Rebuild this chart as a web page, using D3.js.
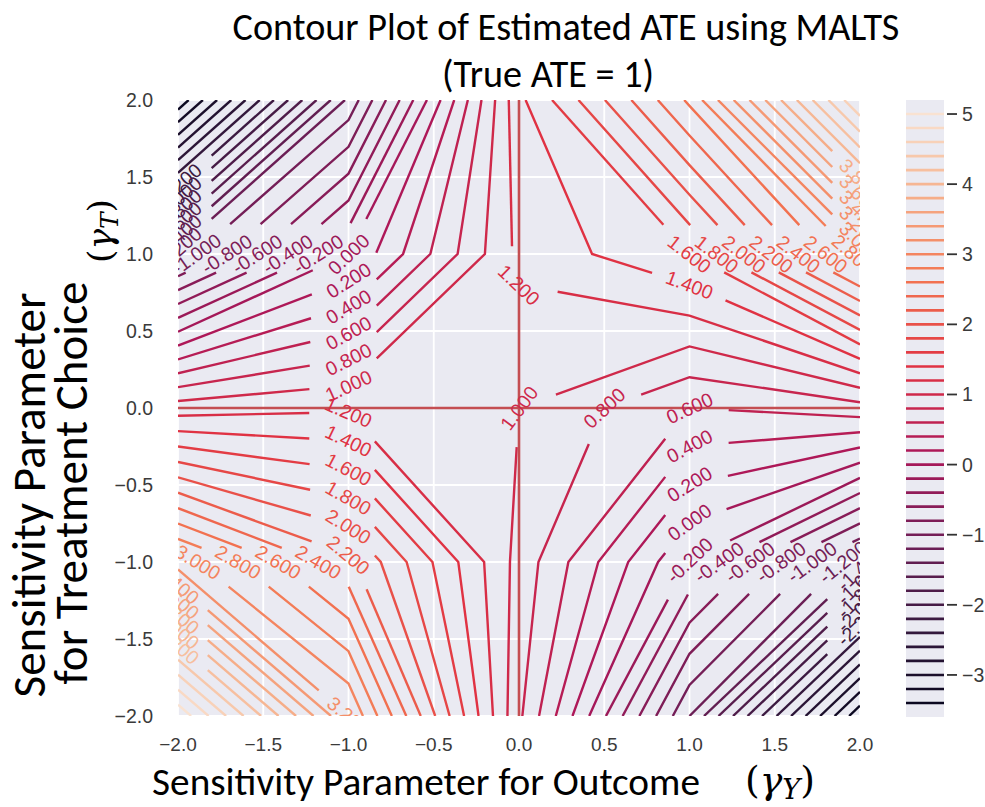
<!DOCTYPE html>
<html><head><meta charset="utf-8">
<script src="https://cdn.jsdelivr.net/npm/d3@7"></script>
<style>body{margin:0;background:#fff} svg{display:block}</style>
</head><body>
<svg id="chart" width="985" height="807"></svg>
<script>
// ---------------- data ----------------
const gammaY = [-2, -1, 0, 1, 2];          // sensitivity parameter for outcome (x grid)
const gammaT = [-2, -1, 0, 1, 2];          // sensitivity parameter for treatment choice (y grid)
// estimated ATE, one row per gammaT value (columns follow gammaY)
const ateAtTm2 = [5.15, 3.2, 0.84, -1.2, -3.55];
const ateAtTm1 = [3.1, 2.25, 0.93, -0.21, -1.31];
const ateAtT0  = [1.1, 1.17, 1.0, 0.6, 0.72];
const ateAtT1  = [-1.12, 0.0, 1.25, 1.6, 2.85];
const ateAtT2  = [-3.55, -1.15, 1.35, 2.64, 4.8];
const levels = d3.range(-34, 52, 2).map(k => k / 10);   // -3.4 … 5.0 step 0.2
const xTicks = [-2, -1.5, -1, -0.5, 0, 0.5, 1, 1.5, 2];
const yTicks = [-2, -1.5, -1, -0.5, 0, 0.5, 1, 1.5, 2];
const cbarTicks = [-3, -2, -1, 0, 1, 2, 3, 4, 5];
const cbarDomain = [-3.6, 5.2];
const rocketStops = ['#03051a', '#35193e', '#701f57', '#ad1759', '#e13342', '#f37651', '#f6b48f', '#faebdd'];

const Z = [ateAtTm2, ateAtTm1, ateAtT0, ateAtT1, ateAtT2];

// ---------------- layout ----------------
const W = 985, H = 807;
const plot = {x0: 178, x1: 860, y0: 100, y1: 716};
const cbar = {x0: 906, x1: 944, y0: 100, y1: 717};
const LABEL_FS = 19.5, SPACING = 10;

const xS = d3.scaleLinear().domain(d3.extent(gammaY)).range([plot.x0, plot.x1]);
const yS = d3.scaleLinear().domain(d3.extent(gammaT)).range([plot.y1, plot.y0]);
const rocket = d3.scaleLinear().domain(rocketStops.map((c, i) => i / (rocketStops.length - 1)))
  .range(rocketStops).interpolate(d3.interpolateRgb);
const norm = d3.scaleLinear().domain(cbarDomain).range([0, 1]).clamp(true);
const colorOf = L => rocket(norm(L));

const svg = d3.select('#chart');
svg.append('rect').attr('width', W).attr('height', H).attr('fill', '#fff');
const defs = svg.append('defs');
defs.append('clipPath').attr('id', 'plotClip').append('rect')
  .attr('x', plot.x0).attr('y', plot.y0).attr('width', plot.x1 - plot.x0).attr('height', plot.y1 - plot.y0);

// ---------------- marching squares (oriented, higher values on the left) ----------------
function edgeKey(p, q) {
  const a = p[0] + ',' + p[1], b = q[0] + ',' + q[1];
  return a < b ? a + '|' + b : b + '|' + a;
}
function contourPaths(L) {
  const nx = gammaY.length, ny = gammaT.length, segs = [];
  for (let j = 0; j < ny - 1; j++) for (let i = 0; i < nx - 1; i++) {
    const cs = [[i, j], [i + 1, j], [i + 1, j + 1], [i, j + 1]];
    const v = cs.map(([a, b]) => Z[b][a]);
    const h = v.map(z => z >= L);
    const cross = [];
    for (let e = 0; e < 4; e++) {
      const f = (e + 1) % 4;
      if (h[e] !== h[f]) {
        const p = cs[e], q = cs[f];
        const t = (L - v[e]) / (v[f] - v[e]);
        cross.push({
          x: gammaY[p[0]] + t * (gammaY[q[0]] - gammaY[p[0]]),
          y: gammaT[p[1]] + t * (gammaT[q[1]] - gammaT[p[1]]),
          key: edgeKey(p, q), type: h[e] ? 'B' : 'A'
        });
      }
    }
    if (cross.length === 2) {
      const B = cross.find(c => c.type === 'B'), A = cross.find(c => c.type === 'A');
      segs.push({from: B, to: A});
    } else if (cross.length === 4) {
      const centerHigh = d3.mean(v) >= L;
      for (let m = 0; m < 4; m++) {
        const c = cross[m], nxt = cross[(m + 1) % 4];
        if (centerHigh) { if (c.type === 'B') segs.push({from: c, to: nxt}); }
        else { if (c.type === 'A') segs.push({from: nxt, to: c}); }
      }
    }
  }
  const byFrom = new Map(); segs.forEach(s => byFrom.set(s.from.key, s));
  const toKeys = new Set(segs.map(s => s.to.key));
  const used = new Set(), paths = [];
  const follow = start => {
    const pts = [start.from];
    let cur = start;
    while (cur && !used.has(cur)) {
      used.add(cur); pts.push(cur.to);
      cur = byFrom.get(cur.to.key);
    }
    paths.push(pts);
  };
  segs.filter(s => !toKeys.has(s.from.key)).forEach(s => { if (!used.has(s)) follow(s); });
  segs.forEach(s => { if (!used.has(s)) follow(s); });
  return paths;
}

// ---------------- inline labelling (matplotlib-like) ----------------
function labelPath(spts, L) {
  const txt = L.toFixed(3);
  const lw = txt.length * 0.6 * LABEL_FS, hlw = lw / 2;
  const n = spts.length;
  const xs = spts.map(p => p[0]), ys = spts.map(p => p[1]);
  const ok = n > 10 * lw || (d3.max(xs) - d3.min(xs)) > 1.2 * lw || (d3.max(ys) - d3.min(ys)) > 1.2 * lw;
  if (!ok) return {pieces: [spts], label: null};
  const ind = Math.floor(n / 2);
  let pl = [0];
  for (let k = 1; k < n; k++) pl.push(pl[k - 1] + Math.hypot(spts[k][0] - spts[k - 1][0], spts[k][1] - spts[k - 1][1]));
  const off = pl[ind]; pl = pl.map(s => s - off);
  const at = s => {
    if (s <= pl[0]) return spts[0].slice();
    if (s >= pl[n - 1]) return spts[n - 1].slice();
    for (let k = 0; k < n - 1; k++) {
      if (s <= pl[k + 1]) {
        const d = pl[k + 1] - pl[k], t = d > 0 ? (s - pl[k]) / d : 0;
        return [spts[k][0] + t * (spts[k + 1][0] - spts[k][0]), spts[k][1] + t * (spts[k + 1][1] - spts[k][1])];
      }
    }
    return spts[n - 1].slice();
  };
  const pA = at(-hlw), pB = at(hlw);
  let rot = Math.atan2(-(pB[1] - pA[1]), pB[0] - pA[0]) * 180 / Math.PI;
  rot = (((rot + 90) % 180) + 180) % 180 - 90;
  const pieces = [];
  const s1 = -hlw - SPACING, s2 = hlw + SPACING;
  if (s1 >= pl[0]) {
    const part = spts.filter((p, k) => pl[k] <= s1); part.push(at(s1)); pieces.push(part);
  }
  if (s2 <= pl[n - 1]) {
    const part = [at(s2)]; spts.forEach((p, k) => { if (pl[k] >= s2) part.push(p); }); pieces.push(part);
  }
  return {pieces, label: {x: spts[ind][0], y: spts[ind][1], rot: -rot, txt}};
}

// ---------------- draw plot area ----------------
const g = svg.append('g');
g.append('rect').attr('x', plot.x0).attr('y', plot.y0).attr('width', plot.x1 - plot.x0)
  .attr('height', plot.y1 - plot.y0).attr('fill', '#eaeaf2');
g.selectAll('line.gx').data(xTicks).join('line').attr('class', 'gx')
  .attr('x1', d => xS(d)).attr('x2', d => xS(d)).attr('y1', plot.y0).attr('y2', plot.y1)
  .attr('stroke', '#fff').attr('stroke-width', 1.8);
g.selectAll('line.gy').data(yTicks).join('line').attr('class', 'gy')
  .attr('y1', d => yS(d)).attr('y2', d => yS(d)).attr('x1', plot.x0).attr('x2', plot.x1)
  .attr('stroke', '#fff').attr('stroke-width', 1.8);

const lineGen = d3.line();
const cg = g.append('g').attr('clip-path', 'url(#plotClip)');
const labels = [];
levels.forEach(L => {
  contourPaths(L).forEach(pts => {
    const spts = pts.map(p => [xS(p.x), yS(p.y)]);
    const res = labelPath(spts, L);
    res.pieces.forEach(pc => {
      if (pc.length > 1) cg.append('path').attr('d', lineGen(pc)).attr('fill', 'none')
        .attr('stroke', colorOf(L)).attr('stroke-width', 2.4).attr('stroke-linejoin', 'miter');
    });
    if (res.label) labels.push({...res.label, color: colorOf(L)});
  });
});
// reference lines at zero
cg.append('line').attr('x1', xS(-2)).attr('x2', xS(2)).attr('y1', yS(0)).attr('y2', yS(0))
  .attr('stroke', '#c44e52').attr('stroke-width', 2.6);
cg.append('line').attr('x1', xS(0)).attr('x2', xS(0)).attr('y1', yS(-2)).attr('y2', yS(2))
  .attr('stroke', '#c44e52').attr('stroke-width', 2.6);

const lg = g.append('g').attr('clip-path', 'url(#plotClip)');
lg.selectAll('text').data(labels).join('text')
  .attr('transform', d => `translate(${d.x},${d.y}) rotate(${d.rot})`)
  .attr('text-anchor', 'middle').attr('dominant-baseline', 'central')
  .attr('font-family', '"Liberation Sans", Arial, sans-serif').attr('font-size', LABEL_FS)
  .attr('fill', d => d.color).text(d => d.txt);

// ---------------- axes ticks ----------------
const fmt1 = d3.format('.1f');
const tickFont = '"Liberation Sans", Arial, sans-serif';
g.selectAll('text.xt').data(xTicks).join('text').attr('class', 'xt')
  .attr('x', d => xS(d)).attr('y', 744).attr('text-anchor', 'middle').attr('dominant-baseline', 'central')
  .attr('font-family', tickFont).attr('font-size', 19).attr('fill', '#3a3a3a').text(d => fmt1(d));
g.selectAll('text.yt').data(yTicks).join('text').attr('class', 'yt')
  .attr('x', 153).attr('y', d => yS(d)).attr('text-anchor', 'end').attr('dominant-baseline', 'central')
  .attr('font-family', tickFont).attr('font-size', 19.5).attr('fill', '#3a3a3a').text(d => fmt1(d));

// ---------------- colorbar ----------------
const cS = d3.scaleLinear().domain(cbarDomain).range([cbar.y1, cbar.y0]);
const cb = svg.append('g');
cb.append('rect').attr('x', cbar.x0).attr('y', cbar.y0).attr('width', cbar.x1 - cbar.x0)
  .attr('height', cbar.y1 - cbar.y0).attr('fill', '#eaeaf2');
cb.selectAll('line.cl').data(levels).join('line').attr('class', 'cl')
  .attr('x1', cbar.x0).attr('x2', cbar.x1).attr('y1', d => cS(d)).attr('y2', d => cS(d))
  .attr('stroke', d => colorOf(d)).attr('stroke-width', 2.6);
cb.selectAll('line.ct').data(cbarTicks).join('line').attr('class', 'ct')
  .attr('x1', cbar.x1 + 3).attr('x2', cbar.x1 + 13).attr('y1', d => cS(d)).attr('y2', d => cS(d))
  .attr('stroke', '#333').attr('stroke-width', 1.8);
cb.selectAll('text.ctl').data(cbarTicks).join('text').attr('class', 'ctl')
  .attr('x', cbar.x1 + 18).attr('y', d => cS(d)).attr('dominant-baseline', 'central')
  .attr('font-family', tickFont).attr('font-size', 19.5).attr('fill', '#3a3a3a').text(d => d3.format('d')(d));

// ---------------- titles and labels ----------------
const mainFont = 'Carlito, Calibri, Lato, "Open Sans", sans-serif';
function fitWidth(sel, target) {
  const w = sel.node().getComputedTextLength();
  const fs = parseFloat(sel.attr('font-size'));
  sel.attr('font-size', fs * target / w);
  return fs * target / w;
}
const t1 = svg.append('text').attr('x', 566).attr('y', 40).attr('text-anchor', 'middle')
  .attr('font-family', mainFont).attr('font-size', 30).attr('fill', '#000')
  .text('Contour Plot of Estimated ATE using MALTS');
const titleFs = fitWidth(t1, 667);
svg.append('text').attr('x', 548).attr('y', 87).attr('text-anchor', 'middle')
  .attr('font-family', mainFont).attr('font-size', titleFs).attr('fill', '#000').text('(True ATE = 1)');

const xl = svg.append('text').attr('x', 426).attr('y', 795).attr('text-anchor', 'middle')
  .attr('font-family', mainFont).attr('font-size', 28).attr('fill', '#000')
  .text('Sensitivity Parameter for Outcome');
fitWidth(xl, 548);

const yl1 = svg.append('text').attr('transform', 'translate(45,495) rotate(-90)').attr('text-anchor', 'middle')
  .attr('font-family', mainFont).attr('font-size', 30).attr('fill', '#000').text('Sensitivity Parameter');
const yFs = fitWidth(yl1, 405);
svg.append('text').attr('transform', 'translate(87,483) rotate(-90)').attr('text-anchor', 'middle')
  .attr('font-family', mainFont).attr('font-size', yFs).attr('fill', '#000').text('for Treatment Choice');

function gammaLabel(transform, sub, target) {
  const t = svg.append('text').attr('transform', transform).attr('text-anchor', 'middle')
    .attr('font-family', '"DejaVu Serif", "Liberation Serif", serif').attr('font-size', 26).attr('fill', '#000');
  t.append('tspan').text('(');
  t.append('tspan').attr('font-style', 'italic').text('γ');
  t.append('tspan').attr('font-style', 'italic').attr('font-size', '0.72em').attr('dy', 6).text(sub);
  t.append('tspan').attr('dy', -6).text(')');
  fitWidth(t, target);
  return t;
}
gammaLabel('translate(780,793)', 'Y', 70);
gammaLabel('translate(112,231) rotate(-90)', 'T', 64);
</script>
</body></html>
